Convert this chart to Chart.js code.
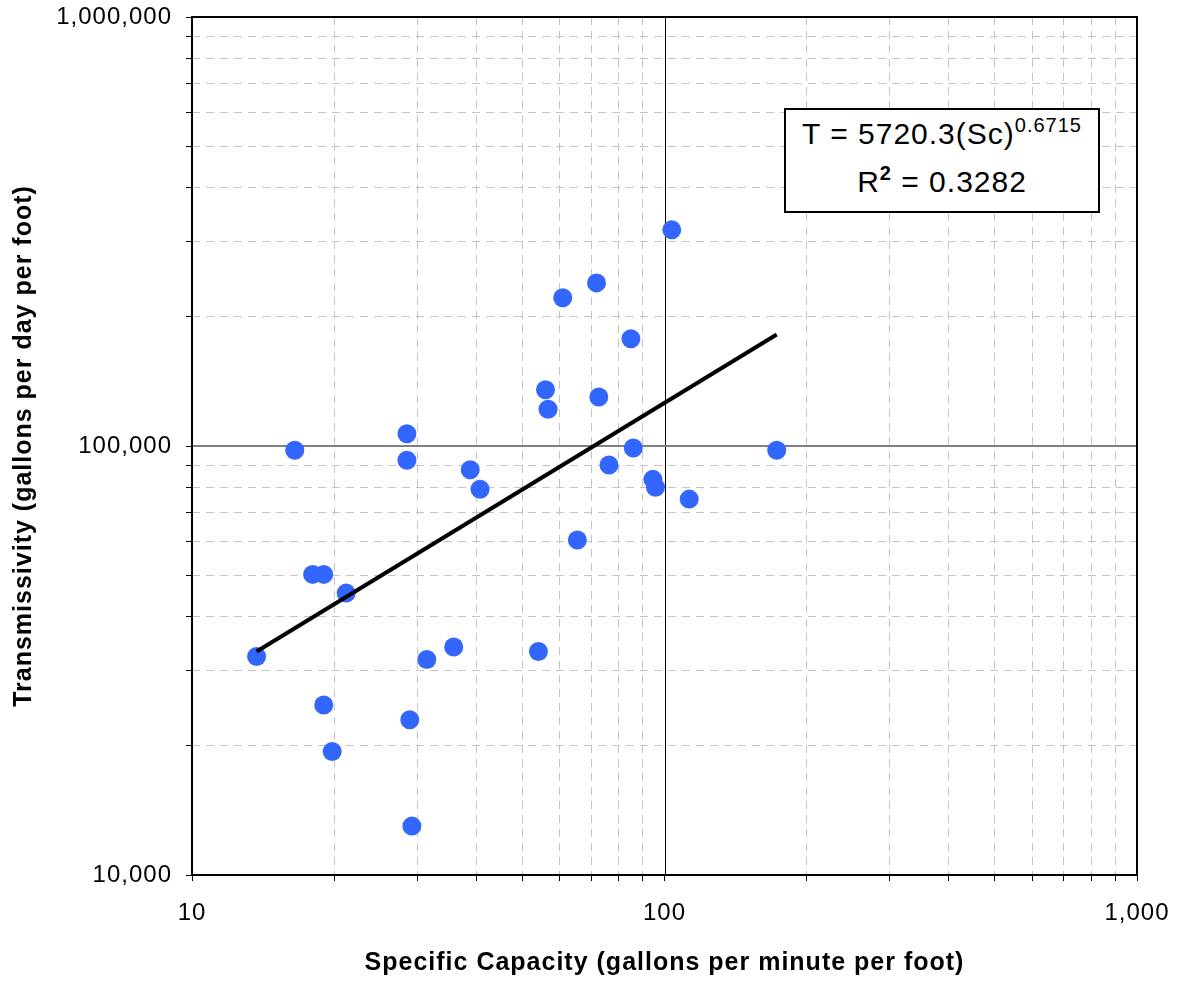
<!DOCTYPE html>
<html>
<head>
<meta charset="utf-8">
<script src="https://cdn.jsdelivr.net/npm/chart.js@4.4.1/dist/chart.umd.min.js"></script>
<style>
  html, body { margin: 0; padding: 0; background: #fff; }
  #wrap { position: relative; width: 1180px; height: 986px; }
  #eq {
    position: absolute; left: 784px; top: 108px; width: 312px; height: 101px;
    border: 2px solid #000; background: #fff;
    font-family: "Liberation Sans", Arial, sans-serif; font-size: 30px; color: #000;
    text-align: center; letter-spacing: 1px;
  }
  #eq .ln { height: 48px; line-height: 48px; white-space: nowrap; }
  #eq .sup { font-size: 20px; position: relative; top: -12px; }
  #eq .sup2 { font-size: 20px; position: relative; top: -12px; font-weight: bold; }
</style>
</head>
<body>
<div id="wrap">
  <canvas id="c" width="1180" height="986"></canvas>
  <div id="eq">
    <div class="ln">T = 5720.3(Sc)<span class="sup">0.6715</span></div>
    <div class="ln">R<span class="sup2">2</span> = 0.3282</div>
  </div>
</div>
<script>
// ---- data ----
const specificCapacity = [13.7, 16.5, 18.0, 19.0, 19.0, 19.8, 21.2, 28.5, 28.5, 28.9, 29.2, 31.4, 35.8, 38.8, 40.7, 54.1, 56.0, 56.7, 60.9, 65.4, 71.8, 72.6, 76.3, 84.9, 85.9, 94.5, 95.7, 103.6, 112.8, 172.8];
const transmissivity   = [32300, 97700, 50200, 50200, 24900, 19400, 45400, 106800, 92600, 23000, 13000, 31800, 34000, 88000, 79300, 33200, 135300, 121800, 221700, 60400, 240000, 130100, 90300, 177900, 98900, 83600, 80100, 319000, 75200, 97700];
const trendX = [13.7, 172.8];
const trendY = [33200, 182000];
const xTickValues = [10, 20, 30, 40, 50, 60, 70, 80, 90, 100, 200, 300, 400, 500, 600, 700, 800, 900, 1000];
const xMajorTicks = [10, 100, 1000];
const xTickLabels = ['10', '100', '1,000'];
const yTickValues = [10000, 20000, 30000, 40000, 50000, 60000, 70000, 80000, 90000, 100000, 200000, 300000, 400000, 500000, 600000, 700000, 800000, 900000, 1000000];
const yMajorTicks = [10000, 100000, 1000000];
const yTickLabels = ['10,000', '100,000', '1,000,000'];
const xTitle = 'Specific Capacity (gallons per minute per foot)';
const yTitle = 'Transmissivity (gallons per day per foot)';

const FONT = '"Liberation Sans", Arial, sans-serif';
const scatterPts = specificCapacity.map((x, i) => ({x: x, y: transmissivity[i]}));
const trendPts = trendX.map((x, i) => ({x: x, y: trendY[i]}));

const isMajor = (arr, v) => arr.some(m => Math.abs(m - v) / m < 1e-9);

const framePlugin = {
  id: 'framePlugin',
  beforeDraw(chart) {
    chart.ctx.letterSpacing = '1px';
  },
  beforeDatasetsDraw(chart) {
    const {ctx, chartArea: a, scales: {x, y}} = chart;
    ctx.save();
    ctx.setLineDash([]);
    xMajorTicks.forEach(v => {
      const px = Math.round(x.getPixelForValue(v)) + 0.5;
      if (px > a.left + 2 && px < a.right - 2) {
        ctx.strokeStyle = '#000'; ctx.lineWidth = 1;
        ctx.beginPath(); ctx.moveTo(px, a.top); ctx.lineTo(px, a.bottom); ctx.stroke();
      }
    });
    yMajorTicks.forEach(v => {
      const py = Math.round(y.getPixelForValue(v));
      if (py > a.top + 2 && py < a.bottom - 2) {
        ctx.strokeStyle = '#808080'; ctx.lineWidth = 2;
        ctx.beginPath(); ctx.moveTo(a.left, py); ctx.lineTo(a.right, py); ctx.stroke();
      }
    });
    ctx.restore();
  },
  afterDraw(chart) {
    const {ctx, chartArea: a} = chart;
    ctx.save();
    ctx.setLineDash([]);
    ctx.strokeStyle = '#000'; ctx.lineWidth = 2;
    ctx.strokeRect(a.left, a.top, a.right - a.left, a.bottom - a.top);
    ctx.restore();
  }
};

new Chart(document.getElementById('c'), {
  type: 'scatter',
  data: {
    datasets: [
      {
        label: 'Power fit',
        data: trendPts,
        showLine: true,
        borderColor: '#000',
        borderWidth: 4,
        pointRadius: 0,
        pointHoverRadius: 0,
        fill: false,
        order: 0
      },
      {
        label: 'Wells',
        data: scatterPts,
        pointRadius: 9.5,
        pointHoverRadius: 9.5,
        backgroundColor: '#3366FF',
        borderWidth: 0,
        order: 1
      }
    ]
  },
  options: {
    responsive: false,
    animation: false,
    devicePixelRatio: 1,
    layout: { padding: { top: 17, right: 43, left: 0, bottom: 0 } },
    plugins: { legend: { display: false }, tooltip: { enabled: false } },
    scales: {
      x: {
        type: 'logarithmic',
        min: 10, max: 1000,
        afterBuildTicks: s => { s.ticks = xTickValues.map(v => ({value: v})); },
        afterFit: s => { s.height = 111; s.paddingLeft = 0; s.paddingRight = 0; },
        ticks: {
          autoSkip: false, maxRotation: 0, padding: 18, color: '#000',
          font: { family: FONT, size: 24 },
          callback: v => { const i = xMajorTicks.findIndex(m => Math.abs(m - v) / m < 1e-9); return i >= 0 ? xTickLabels[i] : ''; }
        },
        grid: {
          color: c => (c.tick && isMajor(xMajorTicks, c.tick.value)) ? 'rgba(0,0,0,0)' : '#c4c4c4',
          lineWidth: 1,
          tickLength: 6, tickColor: '#000', tickWidth: 1
        },
        border: { display: false, dash: [8, 6] },
        title: { display: true, text: xTitle, color: '#000', font: { family: FONT, size: 25, weight: 'bold' }, padding: { top: 0, bottom: 8 } }
      },
      y: {
        type: 'logarithmic',
        min: 10000, max: 1000000,
        afterBuildTicks: s => { s.ticks = yTickValues.map(v => ({value: v})); },
        afterFit: s => { s.width = 192; s.paddingTop = 0; s.paddingBottom = 0; },
        ticks: {
          autoSkip: false, padding: 14, color: '#000',
          font: { family: FONT, size: 24 },
          callback: v => { const i = yMajorTicks.findIndex(m => Math.abs(m - v) / m < 1e-9); return i >= 0 ? yTickLabels[i] : ''; }
        },
        grid: {
          color: c => (c.tick && isMajor(yMajorTicks, c.tick.value)) ? 'rgba(0,0,0,0)' : '#c4c4c4',
          lineWidth: 1,
          tickLength: 6, tickColor: '#000', tickWidth: 1
        },
        border: { display: false, dash: [8, 6] },
        title: { display: true, text: yTitle, color: '#000', font: { family: FONT, size: 25, weight: 'bold' }, padding: { top: 9, bottom: 0 } }
      }
    }
  },
  plugins: [framePlugin]
});
</script>
</body>
</html>
